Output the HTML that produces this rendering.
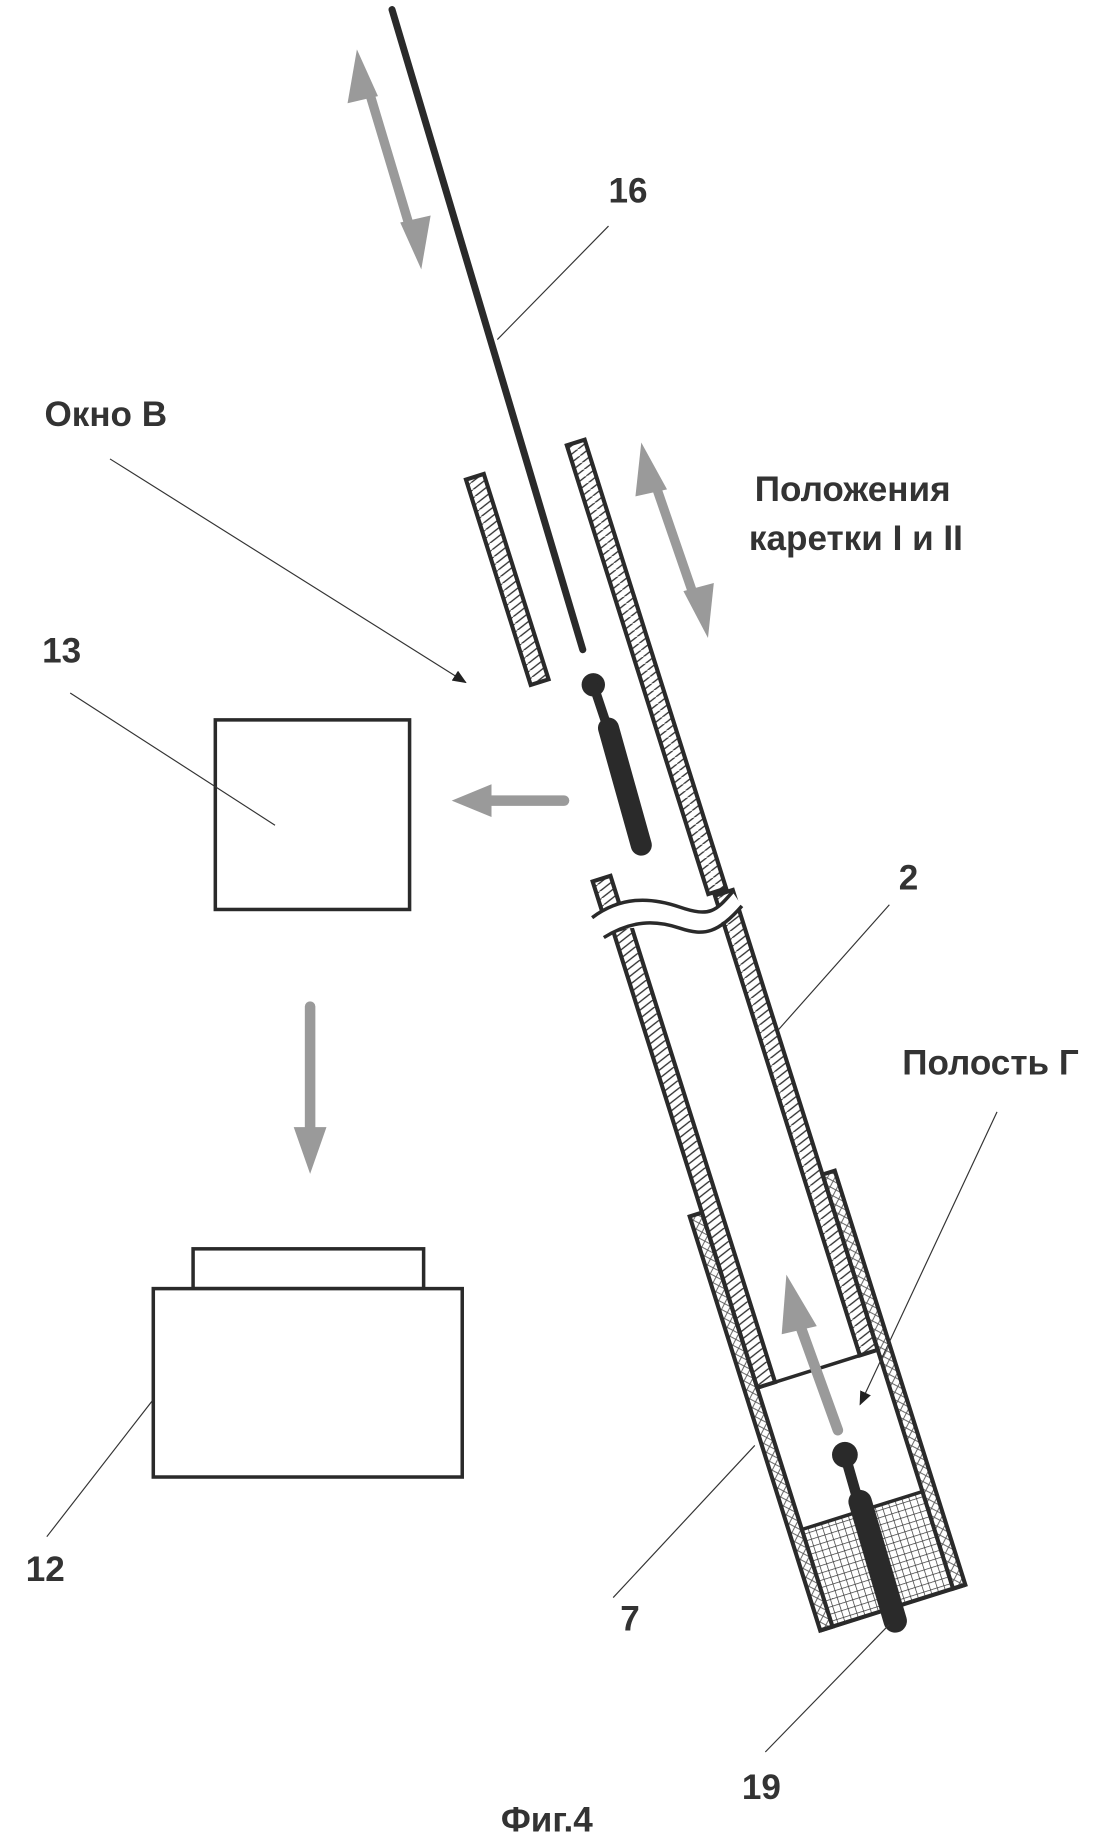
<!DOCTYPE html>
<html><head><meta charset="utf-8"><style>html,body{margin:0;padding:0;background:#fff}svg{display:block}</style></head>
<body>
<svg xmlns="http://www.w3.org/2000/svg" width="1100" height="1840" viewBox="0 0 940 1572">
<defs>
<pattern id="h" patternUnits="userSpaceOnUse" width="16" height="6">
<line x1="0" y1="6" x2="16" y2="0" stroke="#333" stroke-width="1.2"/>
</pattern>
<pattern id="x" patternUnits="userSpaceOnUse" width="8" height="8">
<path d="M0 8 L8 0 M0 0 L8 8" stroke="#555" stroke-width="0.8"/>
</pattern>
<pattern id="m" patternUnits="userSpaceOnUse" width="6" height="6">
<path d="M0 0 H6 M0 0 V6" stroke="#333" stroke-width="1.2"/>
</pattern>
<marker id="ah" markerWidth="12" markerHeight="10" refX="11" refY="5" orient="auto" markerUnits="userSpaceOnUse"><path d="M0 0 L12 5 L0 10 Z" fill="#222"/></marker>
</defs>
<rect width="940" height="1572" fill="#fff"/>

<!-- rod 16 -->
<line x1="335" y1="8" x2="498" y2="555" stroke="#2a2a2a" stroke-width="6" stroke-linecap="round"/>

<g transform="translate(492,378) rotate(-17.5)" stroke="#2a2a2a" stroke-width="3.5">
  <rect x="-99" y="2" width="16" height="184" fill="url(#h)"/>
  <rect x="-8" y="0" width="16" height="402" fill="url(#h)"/>
  <rect x="-99" y="362" width="16" height="40" fill="url(#h)"/>
  <rect x="-95" y="408" width="16" height="409" fill="url(#h)"/>
  <rect x="-3" y="405" width="16" height="412" fill="url(#h)"/>
  <!-- sleeve -->
  <rect x="-106" y="660" width="11" height="371" fill="url(#x)"/>
  <rect x="13" y="660" width="11" height="371" fill="url(#x)"/>
  <line x1="-106" y1="1031" x2="24" y2="1031"/>
  <line x1="-95" y1="817" x2="13" y2="817" stroke-width="3"/>
  <rect x="-95" y="944" width="108" height="87" fill="url(#m)" stroke-width="3"/>
</g>
<!-- break -->
<path d="M 506 784 C 530 766, 555 766, 581 775 S 612 778, 626 762 L 634 774 C 614 797, 600 790, 581 793 S 540 786, 516 801 Z" fill="#fff" stroke="none"/>
<path d="M 506 784 C 530 766, 555 766, 581 775 S 612 778, 626 762" fill="none" stroke="#2a2a2a" stroke-width="3"/>
<path d="M 516 801 C 540 786, 560 786, 581 793 S 614 797, 634 774" fill="none" stroke="#2a2a2a" stroke-width="3"/>

<!-- upper piston -->
<circle cx="507" cy="585" r="10" fill="#2a2a2a"/>
<line x1="507" y1="585" x2="517" y2="615" stroke="#2a2a2a" stroke-width="8"/>
<line x1="520" y1="622" x2="548" y2="722" stroke="#2a2a2a" stroke-width="18" stroke-linecap="round"/>
<!-- lower piston 19 -->
<circle cx="722" cy="1243" r="11" fill="#2a2a2a"/>
<line x1="722" y1="1243" x2="734" y2="1285" stroke="#2a2a2a" stroke-width="9"/>
<line x1="735" y1="1283" x2="765" y2="1385" stroke="#2a2a2a" stroke-width="20" stroke-linecap="round"/>

<!-- gray arrows -->
<g fill="#9a9a9a" stroke="#9a9a9a">
  <line x1="313" y1="70" x2="352" y2="200" stroke-width="8"/>
  <polygon points="305,42 323,82 297,88" stroke="none"/>
  <polygon points="360,230 342,190 368,184" stroke="none"/>
  <line x1="557" y1="405" x2="596" y2="518" stroke-width="8"/>
  <polygon points="548,378 570,418 543,424" stroke="none"/>
  <polygon points="605,545 584,505 610,498" stroke="none"/>
  <line x1="420" y1="684" x2="482" y2="684" stroke-width="9" stroke-linecap="round"/>
  <polygon points="386,684 420,670 420,698" stroke="none"/>
  <line x1="265" y1="860" x2="265" y2="965" stroke-width="9" stroke-linecap="round"/>
  <polygon points="265,1003 251,963 279,963" stroke="none"/>
  <line x1="681" y1="1125" x2="716" y2="1222" stroke-width="9" stroke-linecap="round"/>
  <polygon points="672,1089 698,1133 668,1140" stroke="none"/>
</g>

<!-- boxes -->
<g fill="none" stroke="#2a2a2a" stroke-width="3">
  <rect x="184" y="615" width="166" height="162"/>
  <rect x="165" y="1067" width="197" height="34"/>
  <rect x="131" y="1101" width="264" height="161" fill="#fff"/>
</g>

<!-- leaders -->
<g stroke="#333" stroke-width="1" fill="none">
  <line x1="520" y1="193" x2="425" y2="290"/>
  <line x1="94" y1="392" x2="398" y2="583" marker-end="url(#ah)"/>
  <line x1="60" y1="592" x2="235" y2="705"/>
  <line x1="760" y1="773" x2="665" y2="880"/>
  <line x1="852" y1="950" x2="735" y2="1200" marker-end="url(#ah)"/>
  <line x1="524" y1="1365" x2="645" y2="1235"/>
  <line x1="40" y1="1313" x2="130" y2="1197"/>
  <line x1="654" y1="1497" x2="760" y2="1388"/>
</g>

<g font-family="Liberation Sans, Arial, sans-serif" font-weight="bold" font-size="30" fill="#333">
  <text x="520" y="173">16</text>
  <text x="38" y="364">Окно В</text>
  <text x="645" y="428">Положения</text>
  <text x="640" y="470">каретки I и II</text>
  <text x="36" y="566">13</text>
  <text x="768" y="760">2</text>
  <text x="771" y="918">Полость Г</text>
  <text x="530" y="1393">7</text>
  <text x="22" y="1351">12</text>
  <text x="634" y="1537">19</text>
  <text x="428" y="1565">Фиг.4</text>
</g>
</svg>
</body></html>
